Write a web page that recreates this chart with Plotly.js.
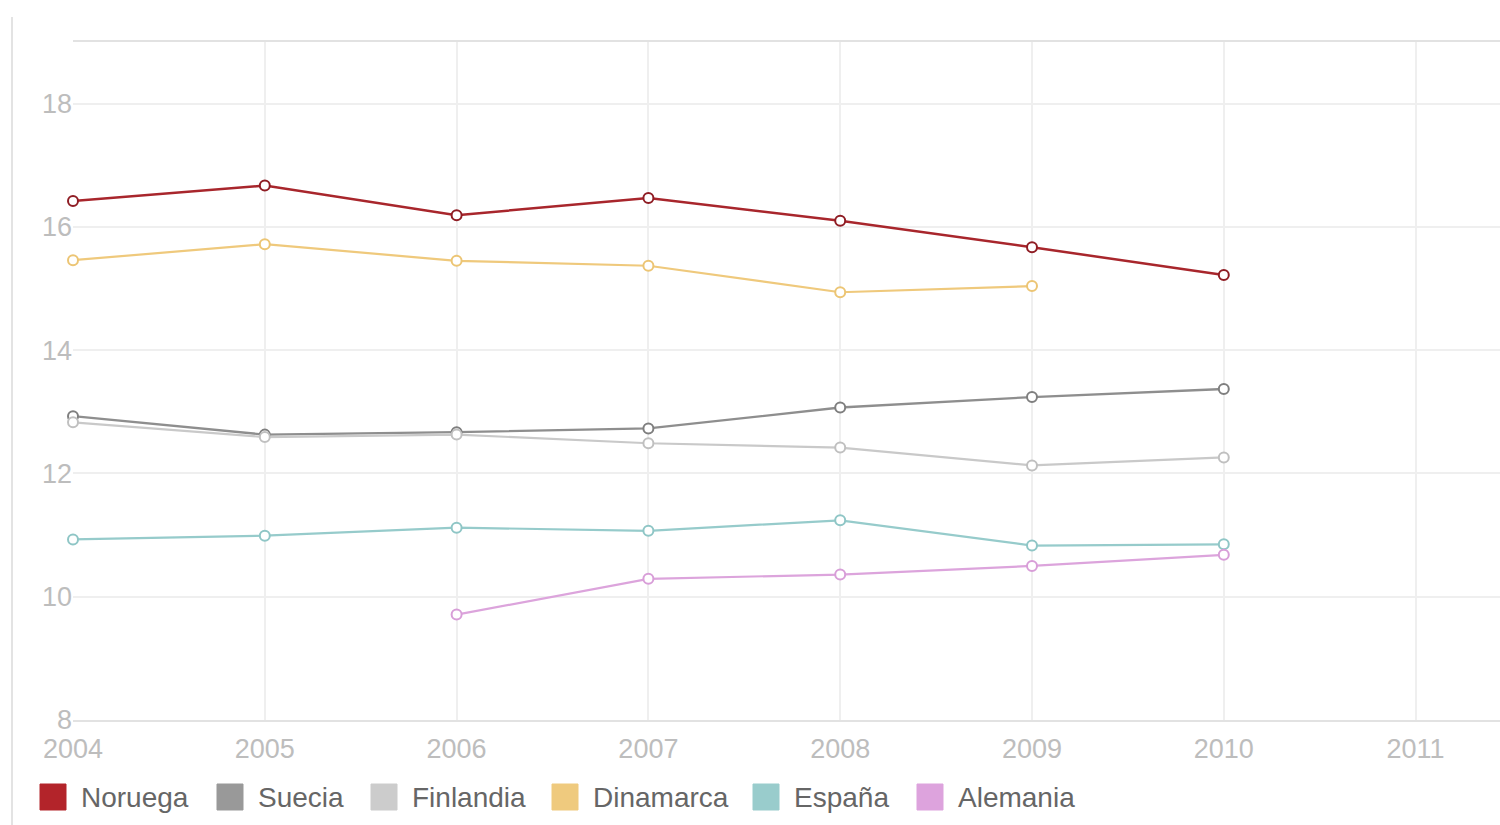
<!DOCTYPE html>
<html>
<head>
<meta charset="utf-8">
<script src="https://cdn.plot.ly/plotly-3.0.1.min.js"></script>
<style>
  html, body { margin: 0; padding: 0; background: #fff; }
  #chart { width: 1500px; height: 825px; }
</style>
</head>
<body>
<div id="chart"></div>
<script>
// ---- data ----
const years = [2004, 2005, 2006, 2007, 2008, 2009, 2010];
const noruega   = [16.42, 16.67, 16.19, 16.47, 16.10, 15.67, 15.22];
const suecia    = [12.93, 12.63, 12.67, 12.73, 13.07, 13.24, 13.37];
const finlandia = [12.83, 12.59, 12.63, 12.49, 12.42, 12.13, 12.26];
const dinamarca = [15.46, 15.72, 15.45, 15.37, 14.94, 15.04, null];
const espana    = [10.93, 10.99, 11.12, 11.07, 11.24, 10.83, 10.85];
const alemania  = [null, null, 9.71, 10.29, 10.36, 10.50, 10.68];

const seriesNames = ["Noruega", "Suecia", "Finlandia", "Dinamarca", "España", "Alemania"];
const seriesData  = [noruega, suecia, finlandia, dinamarca, espana, alemania];
const xTickVals   = [2004, 2005, 2006, 2007, 2008, 2009, 2010, 2011];
const yTickVals   = [8, 10, 12, 14, 16, 18];

// ---- styles ----
const lineColors   = ["#a8262c", "#8e8e8e", "#c9c9c9", "#efc97c", "#96cbcb", "#dca4dc"];
const markerColors = ["#8f1d24", "#7f7f7f", "#c0c0c0", "#ecc574", "#8fc6c6", "#d89ed8"];
const swatchColors = ["#b3242a", "#999999", "#cccccc", "#efca7e", "#99cccc", "#dda3dd"];
const lineWidths   = [2.5, 2.3, 2.2, 2.2, 2.2, 2.2];
const legendPx     = [40, 217, 371, 552, 753, 917];

// plot geometry (px)
const W = 1500, H = 825;
const L = 73, R = 0, T = 42, B = 105;
const pw = W - L - R, ph = H - T - B;
const px2x = p => (p - L) / pw;
const py2y = p => (H - B - p) / ph;

const traces = seriesNames.map((name, i) => ({
  type: "scatter",
  mode: "lines+markers",
  name: name,
  x: years,
  y: seriesData[i],
  connectgaps: false,
  cliponaxis: false,
  line: { color: lineColors[i], width: lineWidths[i] },
  marker: {
    symbol: "circle",
    size: 10,
    color: "#ffffff",
    line: { color: markerColors[i], width: 2 }
  },
  showlegend: false,
  hoverinfo: "x+y+name"
}));

const shapes = [];
const annotations = [];
seriesNames.forEach((name, i) => {
  const x0 = legendPx[i];
  shapes.push({
    type: "rect", xref: "paper", yref: "paper",
    x0: px2x(x0), x1: px2x(x0 + 26),
    y0: py2y(810), y1: py2y(784),
    fillcolor: swatchColors[i],
    line: { color: swatchColors[i], width: 1 },
    layer: "above"
  });
  annotations.push({
    xref: "paper", yref: "paper",
    x: px2x(x0 + 39), y: py2y(797),
    xanchor: "left", yanchor: "middle",
    text: name, showarrow: false,
    font: { family: "Liberation Sans, Arial, sans-serif", size: 28, color: "#666666" }
  });
});
// outer container left border
shapes.push({
  type: "line", xref: "paper", yref: "paper",
  x0: px2x(12), x1: px2x(12), y0: py2y(17), y1: py2y(825),
  line: { color: "#e3e3e3", width: 2 }, layer: "below"
});

const layout = {
  width: W, height: H,
  margin: { l: L, r: R, t: T, b: B, pad: 0 },
  paper_bgcolor: "#ffffff",
  plot_bgcolor: "#ffffff",
  showlegend: false,
  font: { family: "Liberation Sans, Arial, sans-serif", size: 28, color: "#bbbbbb" },
  xaxis: {
    range: [2004, 2004 + pw / 191.8],
    tickmode: "array",
    tickvals: xTickVals,
    ticktext: xTickVals.map(String),
    showgrid: true,
    gridcolor: "#efefef",
    gridwidth: 2,
    zeroline: false,
    showline: true,
    linecolor: "#e2e2e2",
    linewidth: 2,
    mirror: true,
    ticks: "",
    ticklen: 0,
    ticklabelstandoff: 4,
    tickfont: { family: "Liberation Sans, Arial, sans-serif", size: 27, color: "#bdbdbd" }
  },
  yaxis: {
    range: [8, 19],
    tickmode: "array",
    tickvals: yTickVals,
    ticktext: yTickVals.map(String),
    showgrid: true,
    gridcolor: "#efefef",
    gridwidth: 2,
    zeroline: false,
    showline: false,
    ticks: "",
    tickfont: { family: "Liberation Sans, Arial, sans-serif", size: 27, color: "#bdbdbd" }
  },
  shapes: shapes,
  annotations: annotations
};

Plotly.newPlot("chart", traces, layout, { displayModeBar: false, staticPlot: true });
</script>
</body>
</html>
